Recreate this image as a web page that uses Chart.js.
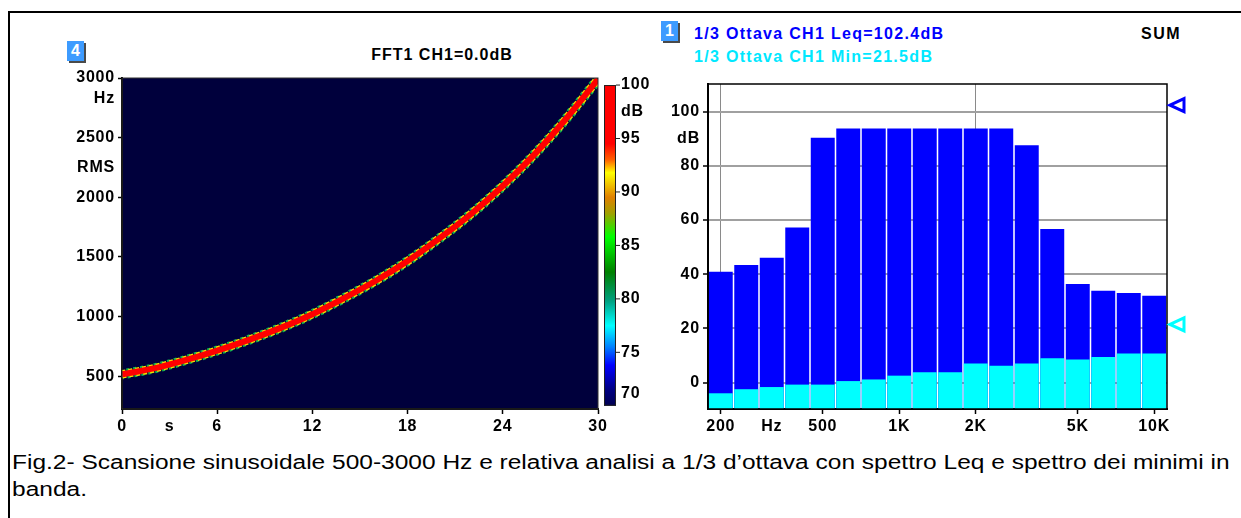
<!DOCTYPE html>
<html>
<head>
<meta charset="utf-8">
<script src="https://cdn.jsdelivr.net/npm/chart.js@4.4.1/dist/chart.umd.min.js"></script>
<style>
    body { margin: 0; width: 1241px; height: 518px; overflow: hidden; background: #fff; position: relative;
           font-family: "Liberation Sans", Arial, sans-serif; }
    #frame { position: absolute; left: 8px; top: 11px; width: 1300px; height: 600px; border: 2px solid #000; box-sizing: border-box; }
    canvas { position: absolute; }
    .badge { position: absolute; width: 17px; height: 20px; background: #3d9bff; color: #fff; font-weight: bold;
             font-size: 16px; line-height: 20px; text-align: center; box-shadow: 2px 2px 0 #4a4a4a; }
    .ttl { position: absolute; font-weight: bold; font-size: 16px; line-height: 16px; white-space: nowrap; }
    #caption { position: absolute; left: 12px; top: 449px; font-size: 20px; line-height: 27px; white-space: nowrap;
               transform: scaleX(1.225); transform-origin: 0 0; }
</style>
</head>
<body>
<div id="frame"></div>

<div class="badge" style="left:67px; top:41px;">4</div>
<div class="ttl" style="left:442px; top:47px; transform:translateX(-50%); letter-spacing:1px;">FFT1 CH1=0.0dB</div>
<canvas id="sweep" width="620" height="380" style="left:40px; top:60px;"></canvas>

<div class="badge" style="left:661px; top:21px;">1</div>
<div class="ttl" style="left:694px; top:26px; color:#0000ff; letter-spacing:1.3px;">1/3 Ottava CH1 Leq=102.4dB</div>
<div class="ttl" style="left:694px; top:49px; color:#00e8ff; letter-spacing:1.3px;">1/3 Ottava CH1 Min=21.5dB</div>
<div class="ttl" style="left:1141px; top:26px; letter-spacing:1.5px;">SUM</div>
<canvas id="bands" width="560" height="370" style="left:660px; top:70px;"></canvas>

<div id="caption">Fig.2- Scansione sinusoidale 500-3000 Hz e relativa analisi a 1/3 d’ottava con spettro Leq e spettro dei minimi in<br>banda.</div>

<script>
// sweep (spectrogram)
const sweepTime = [0, 2, 4, 6, 8, 10, 12, 14, 16, 18, 20, 22, 24, 26, 28, 30];
const sweepFreq = [515, 565, 635, 715, 805, 905, 1020, 1155, 1300, 1465, 1655, 1860, 2095, 2360, 2660, 2990];
const freqTicks = [500, 1000, 1500, 2000, 2250, 2500, 2825, 3000];
const freqTickLabels = ['500', '1000', '1500', '2000', 'RMS', '2500', 'Hz', '3000'];
const timeTicks = [0, 3, 6, 12, 18, 24, 30];
const timeTickLabels = ['0', 's', '6', '12', '18', '24', '30'];
const levelTicks = [70, 75, 80, 85, 90, 95, 97.5, 100];
const levelTickLabels = ['70', '75', '80', '85', '90', '95', 'dB', '100'];

// 1/3 octave bands
const bandLabels = ['200', '250', '315', '400', '500', '630', '800', '1K', '1.25K', '1.6K',
                    '2K', '2.5K', '3.15K', '4K', '5K', '6.3K', '8K', '10K'];
const bandTickLabels = ['200', '', 'Hz', '', '500', '', '', '1K', '', '', '2K', '', '', '', '5K', '', '', '10K'];
const leqValues = [40.9, 43.4, 46.1, 57.3, 90.4, 93.8, 93.8, 93.8, 93.8, 93.8, 93.8, 93.8, 87.6, 56.7, 36.4, 33.9, 33.1, 32.1];
const minValues = [-3.9, -2.4, -1.6, -0.7, -0.7, 0.6, 1.2, 2.6, 3.9, 3.9, 7.1, 6.3, 7.1, 9.0, 8.6, 9.5, 10.8, 10.8];
const dbTicks = [0, 20, 40, 60, 80, 90, 100];
const dbTickLabels = ['0', '20', '40', '60', '80', 'dB', '100'];
const leqTotal = 102.4;
const minTotal = 21.5;

const DB_MIN = -9.7, DB_MAX = 110.2;

// jet-like colour map of the level bar (value, colour)
const levelColours = [
    [100, '#ff0000'], [94.5, '#ff0000'], [93, '#ff6000'], [91.8, '#ffff00'], [89.5, '#e08000'],
    [88, '#a0a000'], [85.8, '#00ff00'], [82.5, '#007f00'], [79.8, '#00a080'], [77.5, '#00ffff'],
    [75.5, '#0080ff'], [73.8, '#0000ff'], [71.5, '#000080'], [70, '#000050']
];

Chart.defaults.font.family = '"Liberation Sans", Arial, sans-serif';
Chart.defaults.font.size = 16;
Chart.defaults.font.weight = 'bold';
Chart.defaults.color = '#000';

// a bit wider text like the original bitmap font
const wideText = {
    id: 'wideText',
    beforeDraw(chart) { chart.ctx.letterSpacing = '0.8px'; }
};

const plotBack = {
    id: 'plotBack',
    beforeDraw(chart, args, opts) {
        if (!opts.color) return;
        const { left, top, width, height } = chart.chartArea;
        chart.ctx.save();
        chart.ctx.fillStyle = opts.color;
        chart.ctx.fillRect(left, top, width, height);
        chart.ctx.restore();
    }
};

const plotFrame = {
    id: 'plotFrame',
    afterDraw(chart, args, opts) {
        const { left, top, width, height } = chart.chartArea;
        const ctx = chart.ctx;
        ctx.save();
        ctx.strokeStyle = opts.color || '#000';
        ctx.lineWidth = opts.width || 1;
        ctx.strokeRect(left, top, width, height);
        ctx.restore();
    }
};

const colourBar = {
    id: 'colourBar',
    afterDraw(chart) {
        const s = chart.scales.level;
        const ctx = chart.ctx;
        const x = chart.chartArea.right + 6, w = 12;
        const top = s.getPixelForValue(100), bot = s.getPixelForValue(70);
        const g = ctx.createLinearGradient(0, top, 0, bot);
        levelColours.forEach(([v, c]) => g.addColorStop((100 - v) / 30, c));
        ctx.save();
        ctx.fillStyle = g;
        ctx.fillRect(x, top, w, bot - top);
        ctx.strokeStyle = '#222';
        ctx.lineWidth = 1;
        ctx.strokeRect(x + 0.5, top + 0.5, w - 1, bot - top - 1);
        ctx.font = 'bold 16px "Liberation Sans", Arial, sans-serif';
        ctx.fillStyle = '#000';
        ctx.textBaseline = 'middle';
        ctx.textAlign = 'left';
        levelTicks.forEach((v, i) => {
            let y = s.getPixelForValue(v);
            if (v > 70 && levelTickLabels[i] !== 'dB') {
                ctx.beginPath();
                ctx.moveTo(x + w, y);
                ctx.lineTo(x + w + 4, y);
                ctx.stroke();
            }
            if (v === 70) y -= 12;   // label sits above the bar end
            ctx.fillText(levelTickLabels[i], x + w + 5, y);
        });
        ctx.restore();
    }
};

const sumMarks = {
    id: 'sumMarks',
    afterDraw(chart) {
        const y = chart.scales.y;
        const ctx = chart.ctx;
        const x0 = chart.chartArea.right + 3;
        ctx.save();
        ctx.lineWidth = 3;
        ctx.lineJoin = 'miter';
        [[leqTotal, '#0000ff'], [minTotal, '#00ffff']].forEach(([v, c]) => {
            const py = y.getPixelForValue(v);
            ctx.strokeStyle = c;
            ctx.beginPath();
            ctx.moveTo(x0, py);
            ctx.lineTo(x0 + 14, py - 6.5);
            ctx.lineTo(x0 + 14, py + 6.5);
            ctx.closePath();
            ctx.stroke();
        });
        ctx.restore();
    }
};

const sweepPoints = sweepTime.map((t, i) => ({ x: t, y: sweepFreq[i] }));
const lineStyle = { pointRadius: 0, cubicInterpolationMode: 'monotone', clip: 0, fill: false };

new Chart(document.getElementById('sweep'), {
    type: 'line',
    data: {
        datasets: [
            { ...lineStyle, data: sweepPoints, borderColor: '#ff0000', borderWidth: 6 },
            { ...lineStyle, data: sweepPoints, borderColor: '#f0e000', borderWidth: 8.5, borderDash: [4, 3] },
            { ...lineStyle, data: sweepPoints, borderColor: '#10b050', borderWidth: 10, borderDash: [3, 4], borderDashOffset: 2 }
        ]
    },
    options: {
        responsive: false,
        animation: false,
        layout: { padding: { left: 12, top: 18, right: 0, bottom: 0 } },
        plugins: {
            legend: { display: false },
            tooltip: { enabled: false },
            plotBack: { color: '#00003c' },
            plotFrame: { color: '#333', width: 1 }
        },
        scales: {
            x: {
                type: 'linear', min: 0, max: 30,
                afterFit: s => { s.height = 31; },
                afterBuildTicks: s => { s.ticks = timeTicks.map(v => ({ value: v })); },
                ticks: { callback: (v, i) => timeTickLabels[i], padding: 3, maxRotation: 0, autoSkip: false },
                grid: { drawOnChartArea: false, tickLength: 5, tickWidth: 1.5,
                        tickColor: c => c.tick && c.tick.value === 3 ? 'transparent' : '#000' },
                border: { color: '#000', width: 2 }
            },
            y: {
                min: 225, max: 3000,
                afterFit: s => { s.width = 70; },
                afterBuildTicks: s => { s.ticks = freqTicks.map(v => ({ value: v })); },
                ticks: { callback: (v, i) => freqTickLabels[i], padding: 3, autoSkip: false },
                grid: { drawOnChartArea: false, tickLength: 4, tickWidth: 1.5,
                        tickColor: c => c.tick && (c.tick.value === 2250 || c.tick.value === 2825) ? 'transparent' : '#000' },
                border: { color: '#000', width: 2 }
            },
            level: {
                type: 'linear', axis: 'y', position: 'right', min: 69.7, max: 100.66,
                afterFit: s => { s.width = 62; },
                ticks: { display: false },
                grid: { display: false },
                border: { display: false }
            }
        }
    },
    plugins: [wideText, plotBack, plotFrame, colourBar]
});

new Chart(document.getElementById('bands'), {
    type: 'bar',
    data: {
        labels: bandLabels,
        datasets: [
            { label: 'Min', data: minValues, backgroundColor: '#00ffff' },
            { label: 'Leq', data: leqValues, backgroundColor: '#0000ff' }
        ]
    },
    options: {
        responsive: false,
        animation: false,
        layout: { padding: { left: 4, top: 14, right: 53, bottom: 0 } },
        datasets: { bar: { grouped: false, base: DB_MIN, barPercentage: 0.94, categoryPercentage: 1, borderWidth: 0 } },
        plugins: {
            legend: { display: false },
            tooltip: { enabled: false },
            plotFrame: { color: '#000', width: 1.5 }
        },
        scales: {
            x: {
                afterFit: s => { s.height = 31; },
                ticks: { callback: (v, i) => bandTickLabels[i], padding: 3, maxRotation: 0, autoSkip: false },
                grid: {
                    offset: false, lineWidth: 1, tickLength: 5, tickWidth: 1.5,
                    color: c => (c.index === 0 || c.index === 10) ? '#8a8a8a' : 'transparent',
                    tickColor: c => (bandTickLabels[c.index] && bandTickLabels[c.index] !== 'Hz') ? '#000' : 'transparent'
                },
                border: { color: '#000', width: 2 }
            },
            y: {
                min: DB_MIN, max: DB_MAX,
                afterFit: s => { s.width = 44; },
                afterBuildTicks: s => { s.ticks = dbTicks.map(v => ({ value: v })); },
                ticks: { callback: (v, i) => dbTickLabels[i], padding: 3, autoSkip: false },
                grid: {
                    lineWidth: 2, tickLength: 5, tickWidth: 1.5,
                    color: c => c.tick && c.tick.value === 90 ? 'transparent' : '#a0a0a0',
                    tickColor: c => c.tick && c.tick.value === 90 ? 'transparent' : '#000'
                },
                border: { color: '#000', width: 2 }
            }
        }
    },
    plugins: [wideText, plotFrame, sumMarks]
});
</script>
</body>
</html>
